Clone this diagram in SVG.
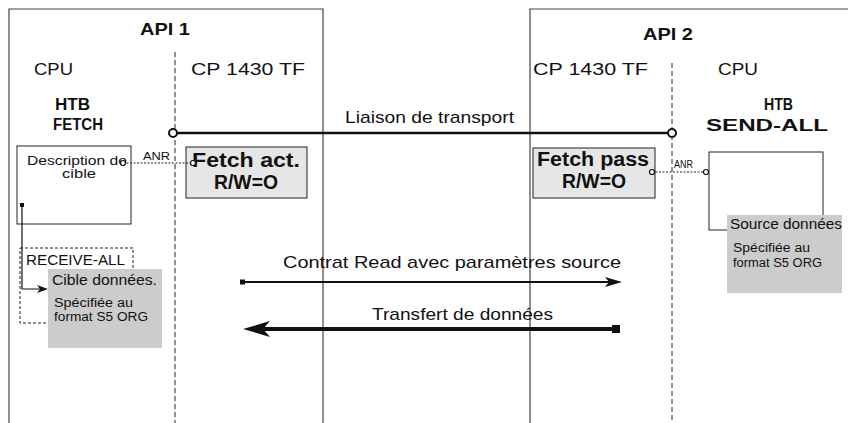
<svg xmlns="http://www.w3.org/2000/svg" width="848" height="423" viewBox="0 0 848 423">
<style>
text{font-family:"Liberation Sans",Arial,sans-serif;fill:#111}
.frame{fill:none;stroke:#444;stroke-width:1.2}
.dash{fill:none;stroke:#222;stroke-width:1;stroke-dasharray:5,3}
.dot{fill:none;stroke:#222;stroke-width:1;stroke-dasharray:2,1.5}
.box{fill:#fff;stroke:#222;stroke-width:1}
.act{fill:#e6e6e6;stroke:#444;stroke-width:1.2}
.gray{fill:#cccccc;stroke:none}
.ring{fill:#fff;stroke:#111;stroke-width:2}
.sring{fill:#fff;stroke:#111;stroke-width:1.2}
.h1{font-size:17px;font-weight:bold}
.h2{font-size:17px}
.h3{font-size:16px;font-weight:bold}
.big{font-size:20px;font-weight:bold}
.s13{font-size:14px}
.s11{font-size:12px}
.s10{font-size:10px}
</style>

<g id="api1">
<path class="frame" d="M9,423 V9 H323 V423"/>
<text class="h1" x="140" y="35" textLength="50" lengthAdjust="spacingAndGlyphs">API 1</text>
<text class="h2" x="34" y="75" textLength="39" lengthAdjust="spacingAndGlyphs">CPU</text>
<text class="h2" x="191" y="75" textLength="114" lengthAdjust="spacingAndGlyphs">CP 1430 TF</text>
<path class="dash" d="M175,52 V423"/>
</g>

<g id="api2">
<path class="frame" d="M530,423 V9 H848"/>
<text class="h1" x="643" y="40" textLength="50" lengthAdjust="spacingAndGlyphs">API 2</text>
<text class="h2" x="533" y="75" textLength="115" lengthAdjust="spacingAndGlyphs">CP 1430 TF</text>
<text class="h2" x="718" y="75" textLength="40" lengthAdjust="spacingAndGlyphs">CPU</text>
<path class="dash" d="M672,63 V423"/>
</g>

<g id="htb-fetch">
<text class="h3" x="55" y="110" textLength="35" lengthAdjust="spacingAndGlyphs">HTB</text>
<text class="h3" x="53" y="130" textLength="50" lengthAdjust="spacingAndGlyphs">FETCH</text>
<rect class="box" x="17" y="146" width="114" height="78"/>
<text class="s11" x="27" y="165" textLength="100" lengthAdjust="spacingAndGlyphs">Description de</text>
<text class="s11" x="62" y="178" textLength="34" lengthAdjust="spacingAndGlyphs">cible</text>
</g>

<g id="receive-all">
<rect x="20" y="248" width="113" height="75" fill="none" stroke="#222" stroke-width="1" stroke-dasharray="3,2"/>
<text class="s13" x="26" y="265" textLength="99" lengthAdjust="spacingAndGlyphs">RECEIVE-ALL</text>
<rect class="gray" x="48" y="269" width="114" height="79"/>
<text class="s13" x="52" y="285" textLength="105" lengthAdjust="spacingAndGlyphs">Cible données.</text>
<text class="s11" x="54" y="307" textLength="79" lengthAdjust="spacingAndGlyphs">Spécifiée  au</text>
<text class="s11" x="54" y="321" textLength="94" lengthAdjust="spacingAndGlyphs">format S5 ORG</text>
</g>

<g id="fetch-act">
<rect class="act" x="186" y="147" width="121" height="51"/>
<text class="big" x="246" y="167" text-anchor="middle" textLength="108" lengthAdjust="spacingAndGlyphs">Fetch act.</text>
<text class="big" x="246" y="189" text-anchor="middle" textLength="64" lengthAdjust="spacingAndGlyphs">R/W=O</text>
</g>

<g id="fetch-pass">
<rect class="act" x="533" y="148" width="122" height="50"/>
<text class="big" x="537" y="166" textLength="112" lengthAdjust="spacingAndGlyphs">Fetch pass</text>
<text class="big" x="594" y="188" text-anchor="middle" textLength="64" lengthAdjust="spacingAndGlyphs">R/W=O</text>
</g>

<g id="htb-send-all">
<text class="h3" x="764" y="110" textLength="29" lengthAdjust="spacingAndGlyphs">HTB</text>
<text class="h3" x="706" y="131" textLength="122" lengthAdjust="spacingAndGlyphs">SEND-ALL</text>
<rect class="box" x="709" y="152" width="114" height="78"/>
<rect class="gray" x="727" y="215" width="115" height="78"/>
<text class="s13" x="730" y="229" textLength="112" lengthAdjust="spacingAndGlyphs">Source données</text>
<text class="s11" x="733" y="252" textLength="77" lengthAdjust="spacingAndGlyphs">Spécifiée au</text>
<text class="s11" x="733" y="267" textLength="89" lengthAdjust="spacingAndGlyphs">format S5 ORG</text>
</g>

<g id="connectors">
<line x1="173" y1="133" x2="672" y2="133" stroke="#111" stroke-width="2.5"/>
<circle class="ring" cx="173" cy="133" r="4"/>
<circle class="ring" cx="672" cy="133" r="4"/>
<text class="h2" x="345" y="123" textLength="169" lengthAdjust="spacingAndGlyphs">Liaison de transport</text>

<path class="dot" d="M123,163 H193"/>
<circle class="sring" cx="123" cy="163" r="2.5"/>
<circle class="sring" cx="193" cy="163" r="2.5"/>
<text class="s10" x="143" y="160" textLength="27" lengthAdjust="spacingAndGlyphs">ANR</text>

<path class="dot" d="M652,172 H706"/>
<circle class="sring" cx="652" cy="172" r="2.5"/>
<circle class="sring" cx="706" cy="172" r="2.5"/>
<text class="s10" x="674" y="168" textLength="19" lengthAdjust="spacingAndGlyphs">ANR</text>

<rect x="20" y="203" width="4" height="4" fill="#111"/>
<path d="M22,205 V289 H40" fill="none" stroke="#111" stroke-width="1.2"/>
<polygon points="48,289 37,285 40,289 37,293" fill="#111"/>

<rect x="240" y="279.5" width="5" height="5" fill="#111"/>
<line x1="243" y1="282" x2="612" y2="282" stroke="#111" stroke-width="2"/>
<polygon points="622,282 605,277 609,282 605,287" fill="#111"/>
<text class="h2" x="283" y="268" textLength="338" lengthAdjust="spacingAndGlyphs">Contrat Read avec paramètres source</text>

<line x1="258" y1="329" x2="615" y2="329" stroke="#111" stroke-width="4"/>
<rect x="612" y="325" width="8" height="8" fill="#111"/>
<polygon points="243,329 270,321 263,329 270,337" fill="#111"/>
<text class="h2" x="372" y="320" textLength="181" lengthAdjust="spacingAndGlyphs">Transfert de données</text>
</g>
</svg>
